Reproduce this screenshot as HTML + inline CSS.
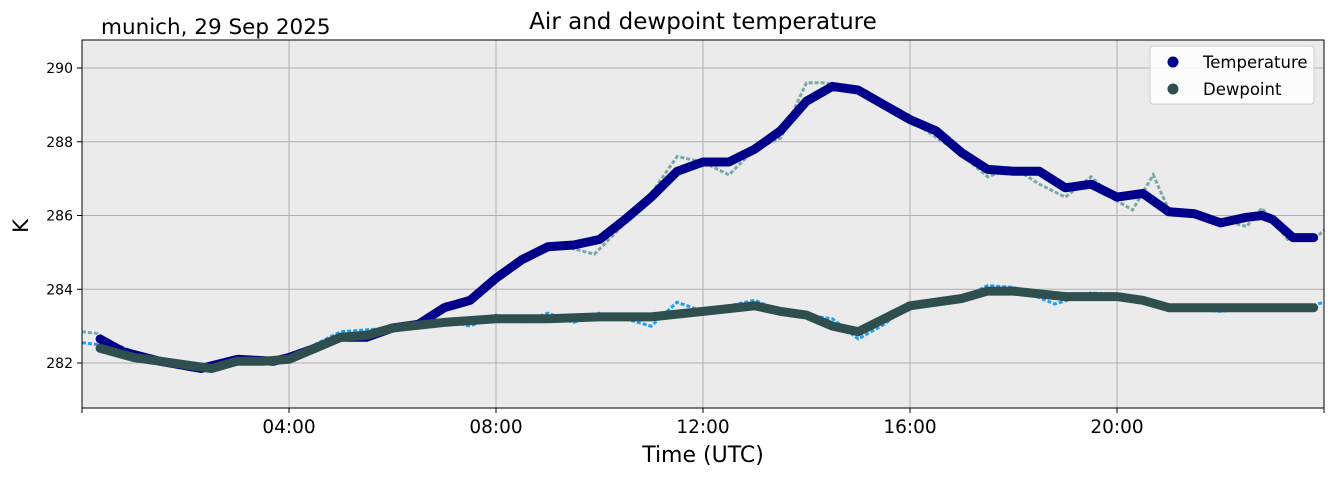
<!DOCTYPE html>
<html><head><meta charset="utf-8"><style>
body{margin:0;background:#fff;font-family:"Liberation Sans","DejaVu Sans",sans-serif}
</style></head><body>
<svg width="1335" height="478" font-family="DejaVu Sans, Liberation Sans, sans-serif">
<text x="101" y="34" font-size="21.5">munich, 29 Sep 2025</text>
<text x="703" y="29" font-size="23" text-anchor="middle">Air and dewpoint temperature</text>
<rect x="82" y="40" width="1242" height="368" fill="#ebebeb"/>
<g id="grid"></g>
<g id="raw"></g>
<g id="smooth"></g>
<rect x="82" y="40" width="1242" height="368" fill="none" stroke="#000" stroke-width="1"/>
<g id="axes"></g>
<text x="703" y="462" font-size="22" text-anchor="middle">Time (UTC)</text>
<text x="28" y="226" font-size="21" text-anchor="middle" transform="rotate(-90 28 226)">K</text>
<g>
<rect x="1150" y="46" width="164" height="58" rx="3" fill="#fff" fill-opacity="0.85" stroke="#ccc"/>
<circle cx="1173" cy="62" r="5.5" fill="#00008b"/>
<text x="1203" y="68" font-size="16.5">Temperature</text>
<circle cx="1173" cy="89" r="5.5" fill="#2f4f4f"/>
<text x="1203" y="95" font-size="16.5">Dewpoint</text>
</g>
</svg>
<script>
const xTicks=[4,8,12,16,20];
const xTickLabels=["04:00","08:00","12:00","16:00","20:00"];
const yTicks=[282,284,286,288,290];
const tH=[0.35,0.8,1.5,2.3,3,3.7,4,4.5,5,5.5,6,6.5,7,7.5,8,8.5,9,9.5,10,10.5,11,11.5,12,12.5,13,13.5,14,14.5,15,15.5,16,16.5,17,17.5,18,18.5,19,19.5,20,20.5,21,21.5,22,22.5,22.8,23,23.4,23.8];
const tempK=[282.65,282.3,282.05,281.85,282.1,282.05,282.15,282.4,282.7,282.7,282.95,283.05,283.5,283.7,284.3,284.8,285.15,285.2,285.35,285.9,286.5,287.2,287.45,287.45,287.8,288.3,289.1,289.5,289.4,289.0,288.6,288.3,287.7,287.25,287.2,287.2,286.75,286.85,286.5,286.6,286.1,286.05,285.8,285.95,286.0,285.9,285.4,285.4];
const dH=[0.35,1,2,2.5,3,3.5,4,4.5,5,5.5,6,7,8,9,10,11,12,13,13.5,14,14.5,15,15.5,16,17,17.5,18,19,20,20.5,21,22,23,23.8];
const dewK=[282.4,282.15,281.95,281.85,282.05,282.05,282.1,282.4,282.7,282.75,282.95,283.1,283.2,283.2,283.25,283.25,283.4,283.55,283.4,283.3,283.0,282.85,283.2,283.55,283.75,283.95,283.95,283.8,283.8,283.7,283.5,283.5,283.5,283.5];
const rawH=[0,0.3,0.5,1.5,2.5,3,4,5,6,6.5,7,7.5,8,8.5,9,9.5,9.9,10.5,11,11.5,12,12.5,13,13.5,14,14.3,14.8,15.5,16,17,17.5,18,18.5,19,19.5,20,20.3,20.7,21,22,22.5,22.8,23.3,23.8,24];
const rawT=[282.85,282.8,282.6,282.0,281.8,282.1,282.15,282.75,282.95,283.1,283.6,283.75,284.3,284.85,285.2,285.1,284.95,285.8,286.6,287.6,287.45,287.1,287.8,288.1,289.6,289.6,289.5,288.95,288.6,287.65,287.05,287.3,286.85,286.5,287.05,286.4,286.15,287.1,286.15,285.9,285.7,286.2,285.35,285.35,285.6];
const rawDH=[0,0.3,0.5,1.5,2.5,3,4,4.5,5,6,7,7.5,8,8.5,9,9.5,10,10.5,11,11.5,12,12.5,13,13.5,14,14.5,15,15.5,16,17,17.5,18,18.8,19.5,20,21,22,23,23.5,24];
const rawD=[282.55,282.5,282.4,282.05,281.85,282.05,282.1,282.5,282.85,282.95,283.15,283.0,283.3,283.1,283.35,283.1,283.35,283.2,283.0,283.65,283.4,283.55,283.7,283.4,283.3,283.2,282.65,283.05,283.6,283.75,284.1,284.05,283.6,283.9,283.85,283.5,283.4,283.55,283.45,283.65];
const NS="http://www.w3.org/2000/svg";
const X=h=>82+h*1242/24;
const Y=k=>363-(k-282)*36.875;
function mk(t,a,p){const e=document.createElementNS(NS,t);for(const k in a)e.setAttribute(k,a[k]);p.appendChild(e);return e;}
const grid=document.getElementById('grid'),axes=document.getElementById('axes');
xTicks.forEach((h,i)=>{
 const l=mk('line',{x1:X(h),x2:X(h),y1:40,y2:408,stroke:'#b0b0b0','stroke-width':1},grid);
 
 
 mk('line',{x1:X(h),x2:X(h),y1:408,y2:413,stroke:'#000'},axes);
 const t=mk('text',{x:X(h),y:433,'font-size':18.5,'text-anchor':'middle'},axes);
 t.textContent=xTickLabels[i];
 
 
});
mk('line',{x1:82,x2:82,y1:408,y2:413,stroke:'#000'},axes);
mk('line',{x1:1324,x2:1324,y1:408,y2:413,stroke:'#000'},axes);
yTicks.forEach(k=>{
 const l=mk('line',{x1:82,x2:1324,y1:Y(k),y2:Y(k),stroke:'#b0b0b0','stroke-width':1},grid);
 
 
 mk('line',{x1:77,x2:82,y1:Y(k),y2:Y(k),stroke:'#000'},axes);
 const t=mk('text',{x:73,y:Y(k)+5,'font-size':14,'text-anchor':'end'},axes);
 t.textContent=k;
 
 
});
const raw=document.getElementById('raw'),sm=document.getElementById('smooth');
function pts(hs,vs){return hs.map((h,i)=>X(h).toFixed(1)+','+Y(vs[i]).toFixed(1)).join(' ');}
let r1=mk('polyline',{points:pts(rawH,rawT),fill:'none',stroke:'#7aa9a9','stroke-width':3,'stroke-dasharray':'4 2'},raw);


let r2=mk('polyline',{points:pts(rawDH,rawD),fill:'none',stroke:'#1e9ff2','stroke-width':3,'stroke-dasharray':'4 2'},raw);


let s1=mk('polyline',{points:pts(tH,tempK),fill:'none',stroke:'#00008b','stroke-width':9,'stroke-linejoin':'round','stroke-linecap':'round'},sm);


let s2=mk('polyline',{points:pts(dH,dewK),fill:'none',stroke:'#2f4f4f','stroke-width':9,'stroke-linejoin':'round','stroke-linecap':'round'},sm);


</script>
</body></html>
